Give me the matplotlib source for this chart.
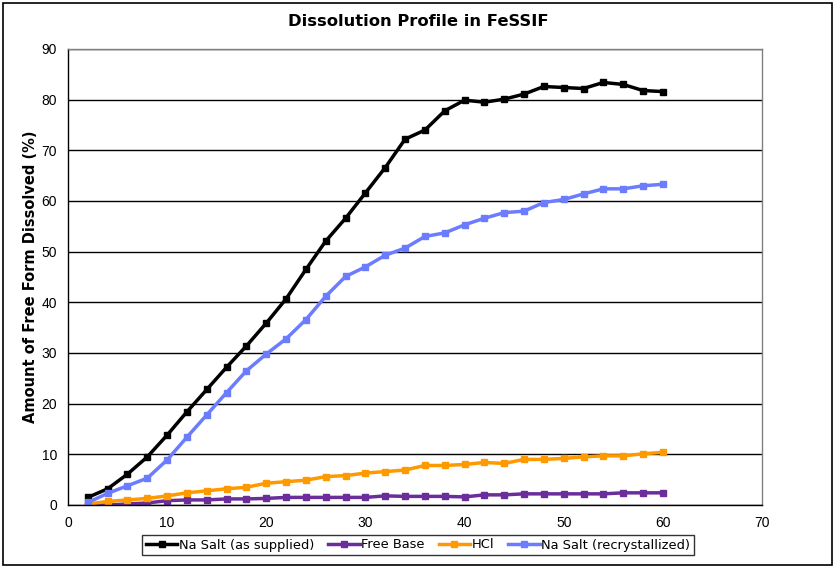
import matplotlib
matplotlib.use("Agg")
import matplotlib.pyplot as plt
from matplotlib.patches import Rectangle

time_min = [2, 4, 6, 8, 10, 12, 14, 16, 18, 20, 22, 24, 26, 28, 30,
            32, 34, 36, 38, 40, 42, 44, 46, 48, 50, 52, 54, 56, 58, 60]
na_salt_supplied = [1.5, 3.2, 6.1, 9.5, 13.8, 18.4, 22.8, 27.2, 31.4, 35.9,
                    40.7, 46.5, 52.1, 56.6, 61.6, 66.6, 72.2, 74.0, 77.8, 79.9,
                    79.5, 80.1, 81.1, 82.6, 82.4, 82.2, 83.4, 83.0, 81.8, 81.6]
free_base = [0.0, 0.0, 0.2, 0.4, 0.85, 1.0, 1.0, 1.2, 1.2, 1.3,
             1.5, 1.5, 1.5, 1.5, 1.5, 1.8, 1.7, 1.7, 1.7, 1.6,
             2.0, 2.0, 2.2, 2.2, 2.2, 2.2, 2.2, 2.4, 2.4, 2.4]
hcl = [0.2, 0.7, 1.0, 1.3, 1.8, 2.4, 2.8, 3.2, 3.5, 4.3,
       4.6, 4.9, 5.6, 5.8, 6.3, 6.6, 6.9, 7.8, 7.8, 8.0,
       8.4, 8.2, 9.0, 9.0, 9.2, 9.5, 9.7, 9.7, 10.1, 10.4]
na_salt_recryst = [0.5, 2.3, 3.8, 5.3, 8.9, 13.4, 17.8, 22.2, 26.5, 29.8,
                   32.8, 36.6, 41.2, 45.1, 47.0, 49.3, 50.7, 53.0, 53.7, 55.3,
                   56.6, 57.7, 58.0, 59.7, 60.3, 61.4, 62.4, 62.4, 63.0, 63.3]

series = [
    ("Na Salt (as supplied)", na_salt_supplied, "#000000"),
    ("Free Base", free_base, "#6A2D9A"),
    ("HCl", hcl, "#FF9900"),
    ("Na Salt (recrystallized)", na_salt_recryst, "#6B7CFF"),
]

W, H = 834, 567
fig = plt.figure(figsize=(W / 100, H / 100), dpi=100)
fig.patch.set_facecolor("white")

# outer border
fig.add_artist(Rectangle((3 / W, 1 - 565 / H), 829 / W, 562 / H,
                         transform=fig.transFigure, fill=False,
                         edgecolor="black", linewidth=1.2))

left, right, top, bottom = 68, 762, 49, 505
ax = fig.add_axes([left / W, 1 - bottom / H, (right - left) / W, (bottom - top) / H])

for name, vals, col in series:
    ax.plot(time_min, vals, color=col, linewidth=2.5, marker="s",
            markersize=4, label=name, solid_joinstyle="round")

ax.set_xlim(0, 70)
ax.set_ylim(0, 90)
ax.set_xticks(range(0, 71, 10))
ax.set_yticks(range(0, 91, 10))
ax.yaxis.grid(True, color="black", linewidth=1.0)
ax.set_axisbelow(True)
ax.tick_params(length=0, labelsize=10, pad=8)
for lab in ax.get_xticklabels() + ax.get_yticklabels():
    lab.set_fontfamily("Liberation Sans")
ax.spines["left"].set_color("black")
ax.spines["bottom"].set_color("black")
ax.spines["top"].set_color("#808080")
ax.spines["right"].set_color("#808080")
for s in ax.spines.values():
    s.set_linewidth(1.0)

fig.text(31 / W, 1 - 277 / H, "Amount of Free Form Dissolved (%)", rotation=90,
         ha="center", va="center", fontsize=10.5, fontweight="bold",
         family="DejaVu Sans")
fig.text(418 / W, 1 - 22 / H, "Dissolution Profile in FeSSIF", ha="center",
         va="center", fontsize=11.8, fontweight="bold", family="DejaVu Sans")

leg = fig.legend(loc="center", bbox_to_anchor=(418 / W, 1 - 545 / H), ncol=4,
                 frameon=True, fancybox=False, edgecolor="black",
                 handlelength=2.4, handletextpad=0.1,
                 columnspacing=1.1, borderpad=0.3,
                 prop={"family": "DejaVu Sans", "size": 9.4})
leg.get_frame().set_linewidth(1.0)

fig.savefig("out.png", dpi=100)
